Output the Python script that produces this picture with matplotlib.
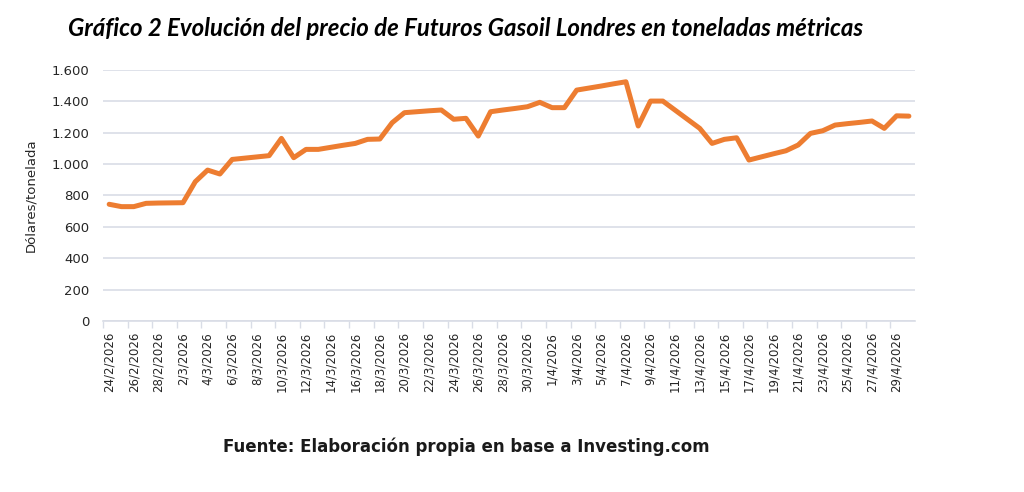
import matplotlib
matplotlib.use('agg')
import matplotlib.pyplot as plt
import numpy as np
import pandas as pd

dates = pd.date_range('2026-02-24', '2026-04-30', freq='D')
date_labels = [f"{d.day}/{d.month}/{d.year}" for d in dates]

# USD per metric ton
price = [
    744, 729, 729, 750, 752,                      # Feb 24-28
    753, 754, 888, 962, 937, 1030, 1038, 1046, 1054, 1164,
    1041, 1094, 1094, 1107, 1120, 1132, 1158, 1160, 1264, 1328,
    1334, 1340, 1345, 1286, 1292, 1179, 1334, 1345, 1355, 1366,
    1394,                                         # Mar
    1360, 1360, 1472, 1485, 1498, 1512, 1525, 1243, 1402, 1402,
    1344, 1286, 1228, 1132, 1158, 1168, 1026, 1046, 1066, 1085,
    1122, 1196, 1213, 1249, 1258, 1266, 1275, 1228, 1308, 1306,  # Apr
]

y_ticks = [0, 200, 400, 600, 800, 1000, 1200, 1400, 1600]

fig = plt.figure(figsize=(10.24, 4.92), dpi=100)
ax = fig.add_axes([0.1006, 0.3476, 0.7930, 0.5101])

x = np.arange(len(price))
ax.plot(x, price, color='#ED7D31', linewidth=3.6, solid_capstyle='round', solid_joinstyle='round')

ax.set_xlim(-0.5, len(price) - 0.5)
ax.set_ylim(0, 1600)
ax.set_yticks(y_ticks)
ax.set_yticklabels([f"{v:,}".replace(',', '.') for v in y_ticks], fontsize=9.5, color='#262626')
ax.yaxis.grid(True, color='#D9DDE6', linewidth=1.2)
ax.set_axisbelow(True)

ax.set_xticks(x[::2])
ax.set_xticklabels(date_labels[::2], rotation=90, fontsize=8.5, color='#262626')
ax.set_xticks(x[::2] - 0.5, minor=True)
ax.tick_params(axis='x', which='major', length=0, pad=8)
ax.tick_params(axis='x', which='minor', length=5, color='#D9DDE6', width=1)
ax.tick_params(axis='y', length=0, pad=10)

for side in ['top', 'right', 'left']:
    ax.spines[side].set_visible(False)
ax.spines['bottom'].set_color('#D9DDE6')
ax.spines['bottom'].set_linewidth(1.2)

ax.set_ylabel('Dólares/tonelada', fontsize=9.5, color='#262626', labelpad=10)

fig.text(0.066, 0.943, 'Gráfico 2 Evolución del precio de Futuros Gasoil Londres en toneladas métricas',
         fontsize=17.3, fontweight='bold', style='italic', family=['Lato', 'DejaVu Sans'],
         ha='left', va='center', color='black')
fig.text(0.455, 0.092, 'Fuente: Elaboración propia en base a Investing.com',
         fontsize=12, fontweight='bold', ha='center', va='center', color='#1a1a1a')

fig.savefig('out.png', dpi=100)
